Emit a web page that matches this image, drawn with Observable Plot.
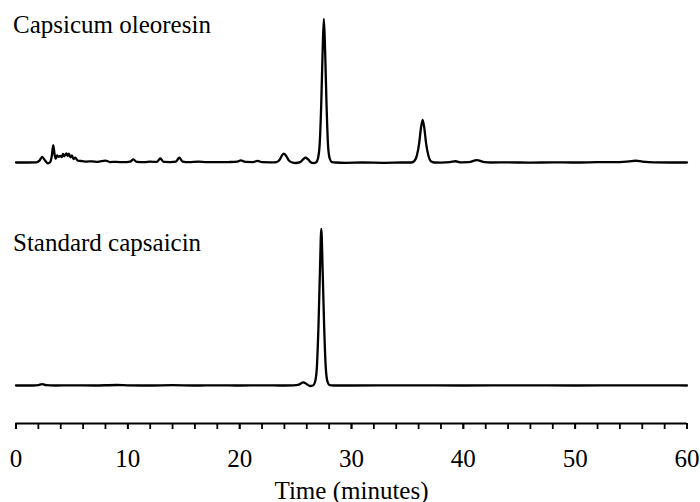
<!DOCTYPE html>
<html>
<head>
<meta charset="utf-8">
<script src="https://cdn.jsdelivr.net/npm/d3@7"></script>
<script src="https://cdn.jsdelivr.net/npm/@observablehq/plot@0.6"></script>
<style>
  html, body { margin: 0; padding: 0; background: #fff; }
</style>
</head>
<body>
<div id="chart"></div>
<script>
// Sample names (one panel each)
const samples = ["Capsicum oleoresin", "Standard capsaicin"];
const xLabel = "Time (minutes)";

// Capsicum oleoresin chromatogram (time in minutes, detector signal in arbitrary units)
const oleoresinTime = [
  0.0, 1.0, 1.8, 2.1, 2.34, 2.6, 2.85, 3.05, 3.2, 3.33, 3.45, 3.55, 3.68, 3.8, 3.95,
  4.1, 4.2, 4.32, 4.5, 4.62, 4.72, 4.88, 5.0, 5.15, 5.3, 5.5, 5.7, 5.9, 6.3, 6.8,
  7.3, 8.0, 8.4, 9.0, 9.6, 10.2, 10.5, 10.8, 11.5, 12.0, 12.6, 12.9, 13.2, 13.8, 14.3, 14.6,
  14.9, 15.5, 16.3, 17.0, 18.0, 19.0, 19.8, 20.1, 20.5, 21.2, 21.6, 22.0, 22.8, 23.3, 23.6,
  23.8, 23.95, 24.15, 24.4, 24.7, 25.0, 25.4, 25.7, 25.9, 26.1, 26.35, 26.6, 26.85, 27.0,
  27.15, 27.3, 27.42, 27.53, 27.64, 27.76, 27.9, 28.05, 28.25, 28.6, 29.5, 31.0, 33.0, 34.5,
  35.3, 35.6, 35.85, 36.05, 36.2, 36.36, 36.52, 36.67, 36.87, 37.1, 37.4, 38.0, 38.8, 39.3,
  39.8, 40.5, 41.2, 41.9, 42.5, 44.0, 46.0, 48.0, 50.0, 52.0, 54.0, 54.8, 55.4, 56.0, 57.0,
  58.5, 60.0
];
const oleoresinSignal = [
  0, 0, 0.1, 1.2, 3.5, 1.2, -0.5, 0.2, 4, 10.8, 5, 2.4, 4.4, 3.6, 4.2,
  3.4, 5.4, 3.9, 5.7, 4.1, 5.5, 3.3, 4.4, 2.2, 3.1, 1.3, 1.0, 0.9, 0.6, 0.7,
  0.4, 1.2, 0.3, 0.4, 0.2, 0.6, 1.9, 0.4, 0.2, 0.5, 0.4, 2.5, 0.4, 0.3, 0.6, 3.0,
  0.6, 0.2, 0.6, 0.3, 0.2, 0.3, 0.5, 1.3, 0.4, 0.3, 1.0, 0.2, 0.1, 0.3, 2,
  4.6, 5.6, 4.2, 1.2, 0, -0.3, 0.2, 2.2, 3.0, 2.1, 0.2, -0.4, 0.2, 2.5,
  11, 38, 70, 89.8, 70, 38, 11, 2.5, 0.3, 0, -0.2, 0, -0.2, 0,
  0, 0.8, 4.5, 12, 21, 26.7, 21, 12, 4.5, 0.8, 0, -0.1, 0.2, 0.8,
  0.1, 0.2, 1.5, 0.2, 0, 0.1, -0.1, 0.1, 0, 0.2, 0.3, 0.7, 1.1, 0.6, 0.1,
  0, 0
];

// Standard capsaicin chromatogram
const standardTime = [
  0.0, 1.5, 2.0, 2.34, 2.7, 3.5, 5.0, 7.0, 9.0, 10.0, 12.0, 14.0, 16.0, 18.0, 20.0, 22.0,
  24.0, 24.8, 25.3, 25.69, 26.0, 26.3, 26.55, 26.75, 26.9, 27.05, 27.18, 27.3, 27.42, 27.55,
  27.7, 27.85, 28.05, 28.4, 30.0, 35.0, 40.0, 45.0, 50.0, 55.0, 60.0
];
const standardSignal = [
  0, 0, 0.3, 0.9, 0.2, 0, 0.1, 0, 0.3, 0.1, 0, 0.2, 0, 0.1, 0, 0.1,
  0, 0.1, 0.6, 2.0, 0.8, -0.3, 0, 2.5, 11, 38, 72, 97.9, 72, 38,
  11, 2.5, 0.2, 0, 0, 0.1, 0, 0.1, 0, 0.1, 0
];

// Axis ticks
const majorTicks = [0, 10, 20, 30, 40, 50, 60];
const minorTicks = d3.range(0, 61, 2);
const xDomain = [0, 60];
const yDomain = [-23.75, 101.25];

const rows = [
  ...oleoresinTime.map((t, i) => ({sample: samples[0], t, v: oleoresinSignal[i]})),
  ...standardTime.map((t, i) => ({sample: samples[1], t, v: standardSignal[i]}))
];

const chart = Plot.plot({
  width: 700,
  height: 502,
  marginTop: 0,
  marginBottom: 79,
  marginLeft: 15.5,
  marginRight: 13.5,
  style: {
    fontFamily: "'Liberation Serif', 'Times New Roman', serif",
    fontSize: "25px",
    background: "#fff",
    color: "#000"
  },
  x: {domain: xDomain, label: null},
  y: {domain: yDomain, axis: null},
  fy: {domain: samples, axis: null, paddingInner: 0.103, paddingOuter: 0, round: false, label: null},
  marks: [
    Plot.lineY(rows, {
      x: "t", y: "v", fy: "sample",
      curve: "monotone-x", stroke: "#000", strokeWidth: 2.3, strokeLinejoin: "round"
    }),
    Plot.text([samples[0]], {
      fy: d => d, text: d => d, frameAnchor: "top-left", textAnchor: "start",
      dx: -3, dy: 15, fill: "#000"
    }),
    Plot.text([samples[1]], {
      fy: d => d, text: d => d, frameAnchor: "top-left", textAnchor: "start",
      dx: -3, dy: 10, fill: "#000"
    }),
    Plot.ruleY([yDomain[0]], {facetAnchor: "bottom", stroke: "#000", strokeWidth: 2}),
    Plot.axisX({
      ticks: minorTicks, tickSize: 6, tickFormat: () => "", label: null,
      stroke: "#000", strokeWidth: 1.8
    }),
    Plot.axisX({
      ticks: majorTicks, tickSize: 6, tickPadding: 20, tickFormat: d => String(d),
      label: null, stroke: "#000", strokeWidth: 1.8, fill: "#000"
    }),
    Plot.text([xLabel], {
      text: d => d, frameAnchor: "bottom", lineAnchor: "middle", textAnchor: "middle",
      facetAnchor: "bottom", dy: 67, fill: "#000"
    })
  ]
});

document.getElementById("chart").appendChild(chart);
</script>
</body>
</html>
